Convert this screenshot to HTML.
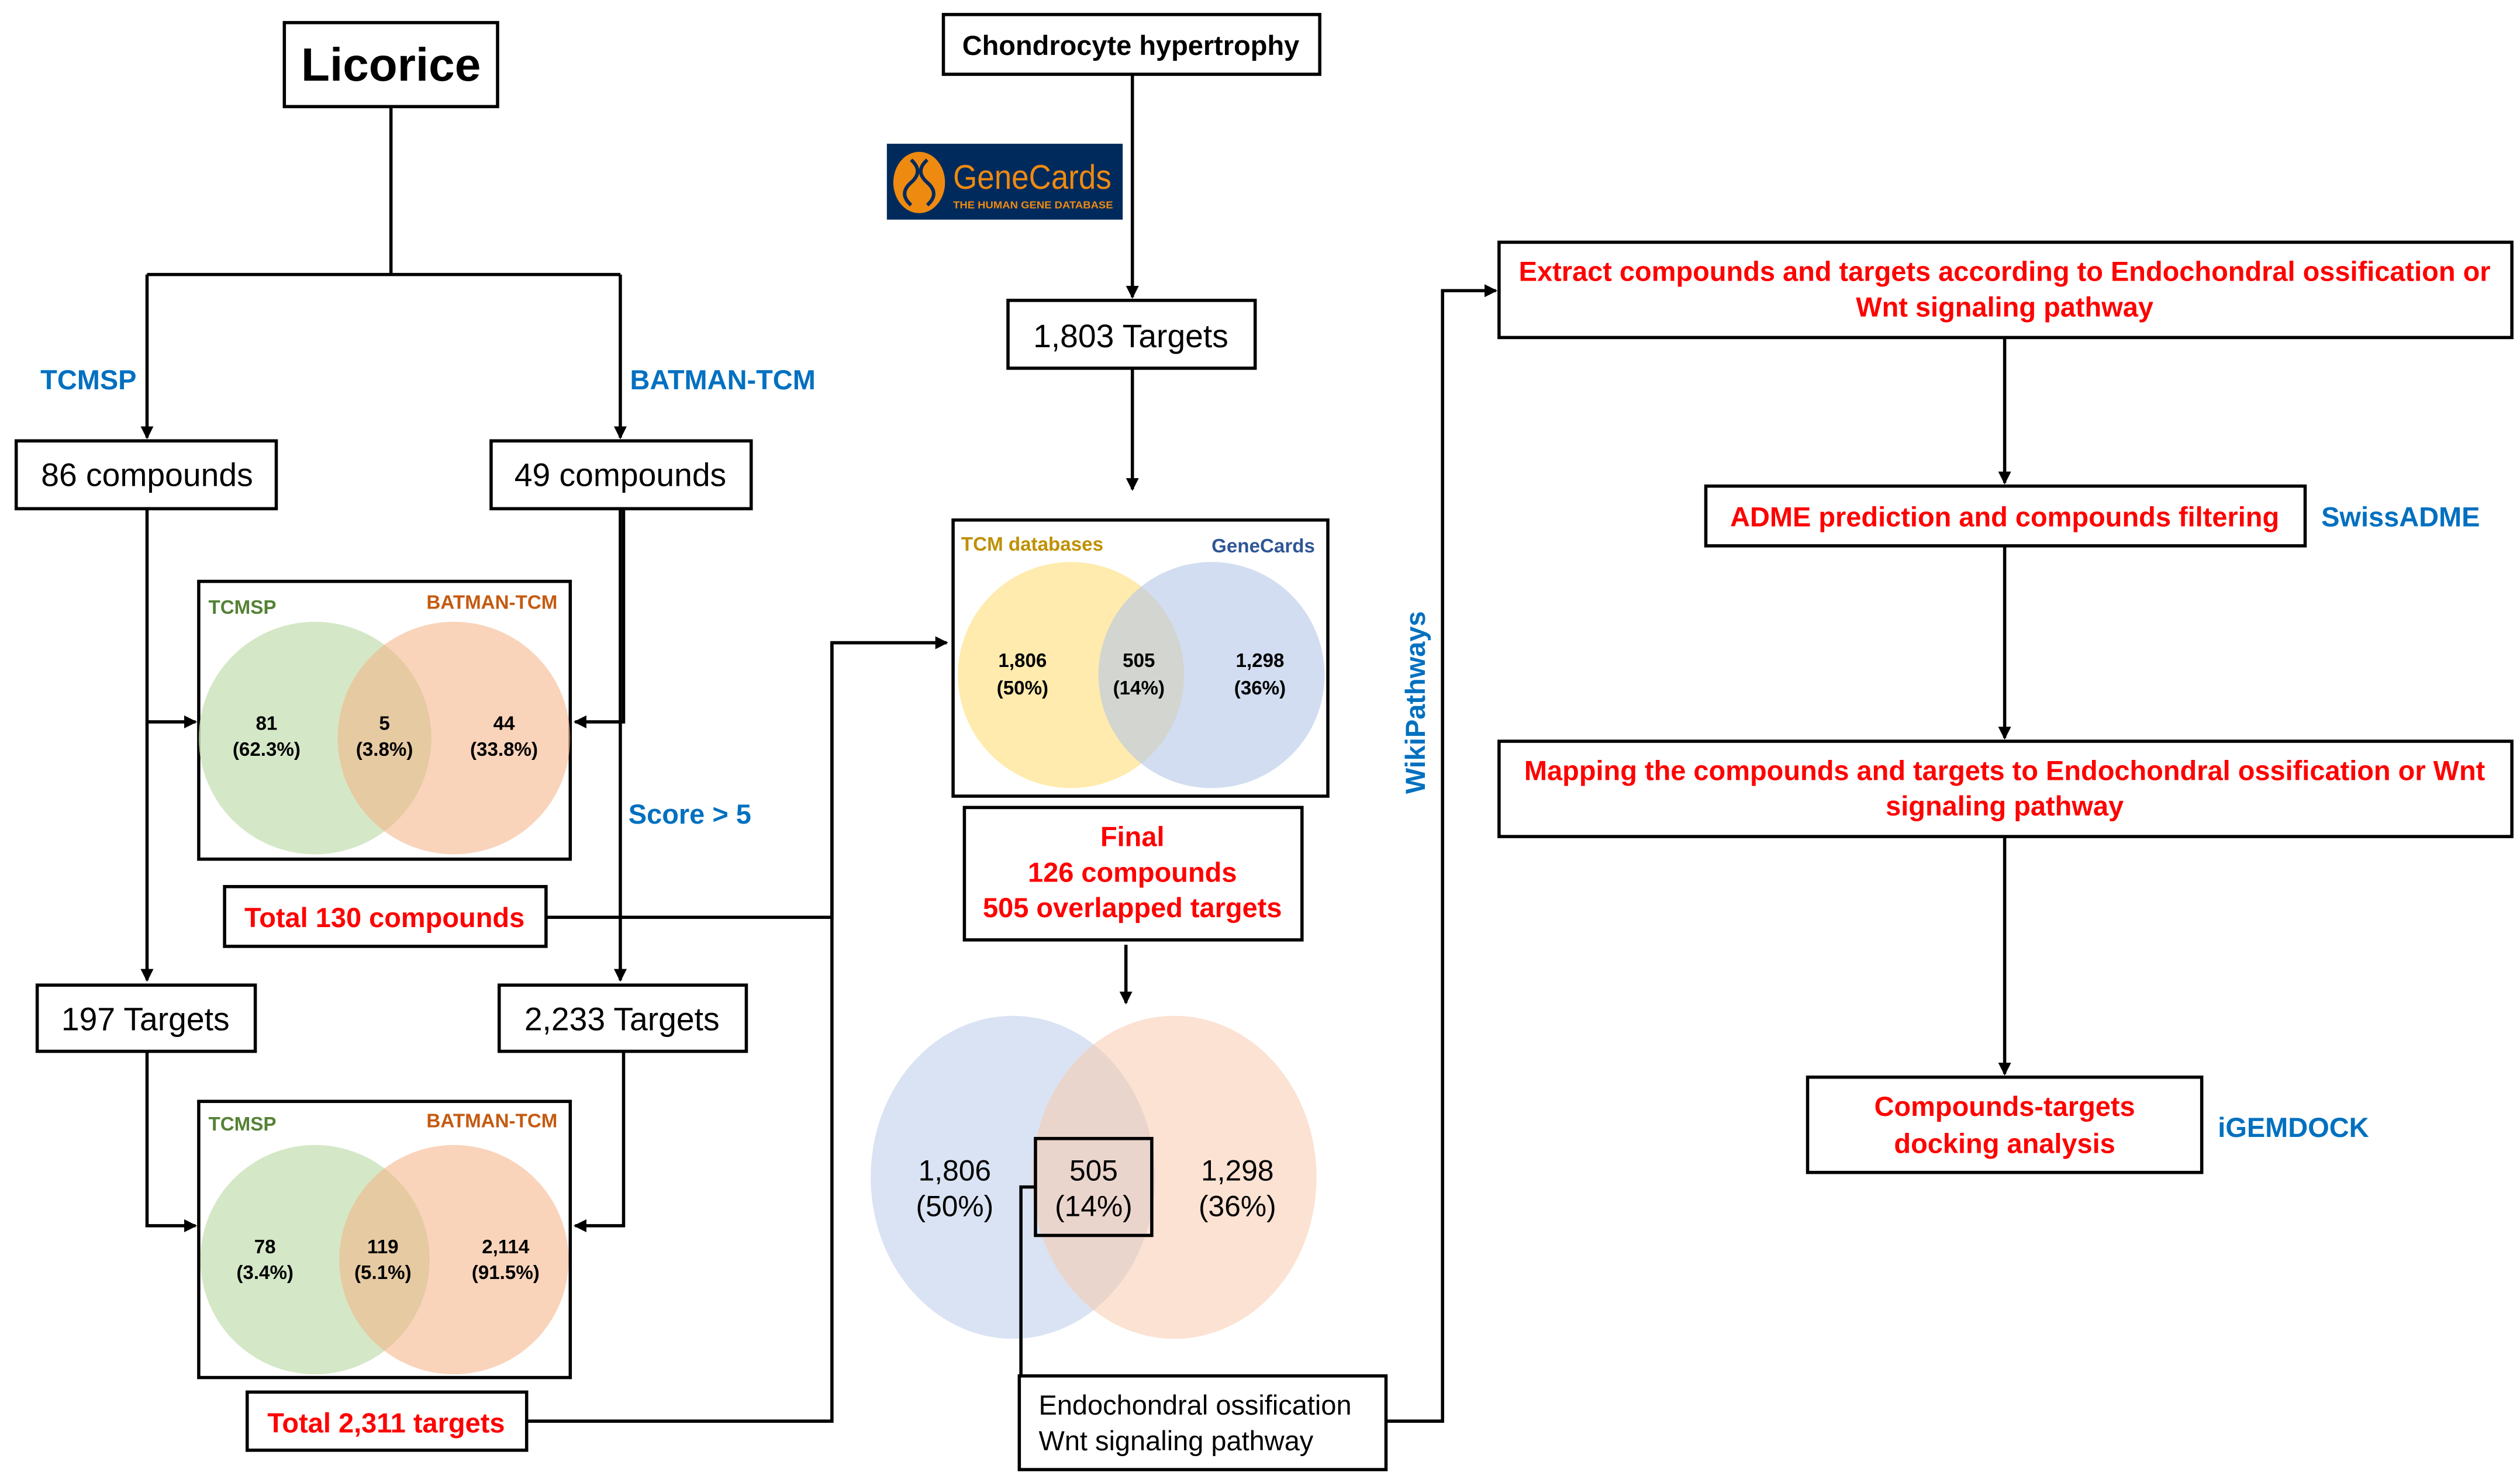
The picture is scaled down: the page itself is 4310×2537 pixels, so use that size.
<!DOCTYPE html>
<html><head><meta charset="utf-8"><style>html,body{margin:0;padding:0;background:#fff}svg{display:block}</style></head>
<body>
<svg width="4310" height="2537" viewBox="0 0 1560 918.3" xmlns="http://www.w3.org/2000/svg" font-family="Liberation Sans, Arial, sans-serif">
<defs><marker id="a" markerWidth="8" markerHeight="8" refX="7" refY="4" orient="auto" markerUnits="userSpaceOnUse"><path d="M0,0 L8,4 L0,8 z" fill="#000"/></marker></defs>
<rect width="1560" height="918.3" fill="#fff"/>
<g stroke="#000" stroke-width="2" fill="none">
<!-- licorice tree -->
<rect x="176" y="14" width="132" height="52"/>
<path d="M242,66 V170 M91,170 H384"/>
<path d="M91,170 V271" marker-end="url(#a)"/>
<path d="M384,170 V271" marker-end="url(#a)"/>
<rect x="10" y="273" width="161" height="42"/>
<rect x="304" y="273" width="161" height="42"/>
<path d="M91,315 V607" marker-end="url(#a)"/>
<path d="M91,447 H121" marker-end="url(#a)"/>
<path d="M386,315 V447 H356" marker-end="url(#a)"/>
<path d="M384,315 V607" marker-end="url(#a)"/>
<rect x="123" y="360" width="230" height="172"/>
<rect x="139" y="549" width="199" height="37"/>
<path d="M338,568 H515 V398 H586" marker-end="url(#a)"/>
<rect x="23" y="610" width="135" height="41"/>
<rect x="309" y="610" width="153" height="41"/>
<path d="M91,651 V759 H121" marker-end="url(#a)"/>
<path d="M386,651 V759 H356" marker-end="url(#a)"/>
<rect x="123" y="682" width="230" height="171"/>
<rect x="153" y="862" width="173" height="36"/>
<path d="M326,880 H515 V398"/>
<!-- middle -->
<rect x="584" y="9" width="233" height="37"/>
<path d="M701,46 V184" marker-end="url(#a)"/>
<rect x="624" y="186" width="153" height="42"/>
<path d="M701,228 V303" marker-end="url(#a)"/>
<rect x="590" y="322" width="232" height="171"/>
<rect x="597" y="500" width="209" height="82"/>
<path d="M697,585 V621" marker-end="url(#a)"/>
</g>
<!-- venn 1 -->
<circle cx="195" cy="457" r="72" fill="#c5e0b4" fill-opacity="0.75"/>
<circle cx="281" cy="457" r="72" fill="#f4b183" fill-opacity="0.55"/>
<!-- venn 2 -->
<circle cx="195" cy="780" r="71" fill="#c5e0b4" fill-opacity="0.75"/>
<circle cx="281" cy="780" r="71" fill="#f4b183" fill-opacity="0.55"/>
<!-- venn 3 -->
<circle cx="663" cy="418" r="70" fill="#ffe699" fill-opacity="0.8"/>
<circle cx="750" cy="418" r="70" fill="#b4c7e7" fill-opacity="0.6"/>
<!-- big venn -->
<ellipse cx="627" cy="729" rx="88" ry="100" fill="#dae3f3"/>
<ellipse cx="727" cy="729" rx="88" ry="100" fill="#f8cbad" fill-opacity="0.55"/>
<g stroke="#000" stroke-width="2" fill="none">
<rect x="641" y="705" width="72" height="60"/>
<path d="M641,735 H632 V852"/>
<rect x="631" y="852" width="227" height="58" fill="#fff"/>
<path d="M858,880 H893 V180 H926" marker-end="url(#a)"/>
<!-- right -->
<rect x="928" y="150" width="627" height="59"/>
<path d="M1241,209 V299" marker-end="url(#a)"/>
<rect x="1056" y="301" width="371" height="37"/>
<path d="M1241,338 V457" marker-end="url(#a)"/>
<rect x="928" y="459" width="627" height="59"/>
<path d="M1241,518 V665" marker-end="url(#a)"/>
<rect x="1119" y="667" width="244" height="59"/>
</g>
<!-- GeneCards logo -->
<rect x="549" y="89" width="146" height="47" fill="#002a5c"/>
<ellipse cx="569" cy="113" rx="16" ry="19" fill="#ef8a10"/>
<path d="M564,99 q8,7 0,14 q-8,7 0,14 M574,99 q-8,7 0,14 q8,7 0,14" stroke="#002a5c" stroke-width="2.2" fill="none"/>
<text x="590" y="117" font-size="21" fill="#ef8a10" textLength="98" lengthAdjust="spacingAndGlyphs">GeneCards</text>
<text x="590" y="129" font-size="6.5" font-weight="bold" fill="#ef8a10" textLength="99" lengthAdjust="spacingAndGlyphs">THE HUMAN GENE DATABASE</text>
<!-- texts -->
<g text-anchor="middle">
<text x="242" y="50" font-size="29" font-weight="bold">Licorice</text>
<text x="91" y="301" font-size="20">86 compounds</text>
<text x="384" y="301" font-size="20">49 compounds</text>
<text x="90" y="638" font-size="20">197 Targets</text>
<text x="385" y="638" font-size="20">2,233 Targets</text>
<text x="700" y="34" font-size="17" font-weight="bold">Chondrocyte hypertrophy</text>
<text x="700" y="215" font-size="20">1,803 Targets</text>
<g font-size="17" font-weight="bold" fill="#ff0000">
<text x="238" y="574">Total 130 compounds</text>
<text x="239" y="887">Total 2,311 targets</text>
<text x="701" y="524">Final</text>
<text x="701" y="546">126 compounds</text>
<text x="701" y="568">505 overlapped targets</text>
<text x="1241" y="174">Extract compounds and targets according to Endochondral ossification or</text>
<text x="1241" y="196">Wnt signaling pathway</text>
<text x="1241" y="326">ADME prediction and compounds filtering</text>
<text x="1241" y="483">Mapping the compounds and targets to Endochondral ossification or Wnt</text>
<text x="1241" y="505">signaling pathway</text>
<text x="1241" y="691">Compounds-targets</text>
<text x="1241" y="714">docking analysis</text>
</g>
<g font-size="12" font-weight="bold">
<text x="165" y="452">81</text><text x="165" y="468">(62.3%)</text>
<text x="238" y="452">5</text><text x="238" y="468">(3.8%)</text>
<text x="312" y="452">44</text><text x="312" y="468">(33.8%)</text>
<text x="164" y="776">78</text><text x="164" y="792">(3.4%)</text>
<text x="237" y="776">119</text><text x="237" y="792">(5.1%)</text>
<text x="313" y="776">2,114</text><text x="313" y="792">(91.5%)</text>
<text x="633" y="413">1,806</text><text x="633" y="430">(50%)</text>
<text x="705" y="413">505</text><text x="705" y="430">(14%)</text>
<text x="780" y="413">1,298</text><text x="780" y="430">(36%)</text>
</g>
<g font-size="18">
<text x="591" y="731">1,806</text><text x="591" y="753">(50%)</text>
<text x="677" y="731">505</text><text x="677" y="753">(14%)</text>
<text x="766" y="731">1,298</text><text x="766" y="753">(36%)</text>
</g>
</g>
<g font-weight="bold" font-size="17" fill="#0070c0">
<text x="25" y="241">TCMSP</text>
<text x="390" y="241">BATMAN-TCM</text>
<text x="389" y="510">Score &gt; 5</text>
<text x="1437" y="326">SwissADME</text>
<text x="1373" y="704">iGEMDOCK</text>
<text transform="translate(882,435) rotate(-90)" text-anchor="middle">WikiPathways</text>
</g>
<g font-weight="bold" font-size="12">
<text x="129" y="380" fill="#548235">TCMSP</text>
<text x="264" y="377" fill="#c55a11">BATMAN-TCM</text>
<text x="129" y="700" fill="#548235">TCMSP</text>
<text x="264" y="698" fill="#c55a11">BATMAN-TCM</text>
<text x="595" y="341" fill="#bf9000">TCM databases</text>
<text x="750" y="342" fill="#2f5597">GeneCards</text>
</g>
<g font-size="17">
<text x="643" y="876">Endochondral ossification</text>
<text x="643" y="898">Wnt signaling pathway</text>
</g>
</svg>
</body></html>
